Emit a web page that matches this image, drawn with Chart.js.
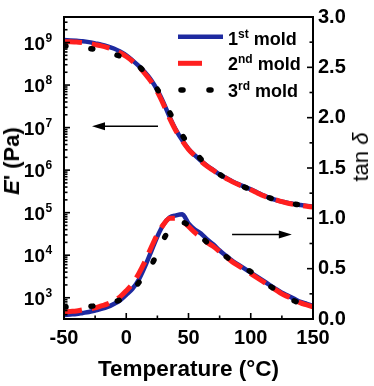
<!DOCTYPE html>
<html>
<head>
<meta charset="utf-8">
<script src="https://cdn.jsdelivr.net/npm/chart.js@4.4.1/dist/chart.umd.min.js"></script>
<style>
  body { margin: 0; background: #fff; }
  #wrap { position: relative; width: 374px; height: 386px; font-family: "Liberation Sans", Arial, sans-serif; color: #000; }
  #wrap canvas { position: absolute; left: 0; top: 0; }
  .txt { position: absolute; white-space: nowrap; line-height: 1; }
  .leg { font-weight: bold; font-size: 18px; left: 228px; }
  .leg span { font-size: 12px; position: relative; top: -7px; }
  .rot { transform: translate(-50%, -50%) rotate(-90deg); }
</style>
</head>
<body>
<div id="wrap">
  <canvas id="dma" width="374" height="386"></canvas>
  <div class="txt leg" style="top:29.8px">1<span>st</span> mold</div>
  <div class="txt leg" style="top:54.8px">2<span>nd</span> mold</div>
  <div class="txt leg" style="top:82.1px">3<span>rd</span> mold</div>
  <div class="txt" style="left:64px;width:249px;top:358px;text-align:center;font-weight:bold;font-size:22.5px;">Temperature (&deg;C)</div>
  <div class="txt rot" style="left:11.5px;top:161px;font-weight:bold;font-size:22px;"><i>E</i>'&nbsp;(Pa)</div>
  <div class="txt rot" style="left:361px;top:157px;font-size:22px;">tan <i>&delta;</i></div>
</div>
<script>
// temperature grid (°C)
const temps = [-50, -45, -40, -35, -30, -25, -20, -15, -10, -5, 0, 5, 10, 15, 20, 25, 30, 35, 40, 45, 50,
               55, 60, 65, 70, 75, 80, 85, 90, 95, 100, 105, 110, 115, 120, 125, 130, 135, 140, 145, 150];

// storage modulus, log10(E' / Pa)
const modulusLog1 = [9.06, 9.05, 9.04, 9.03, 9.01, 8.98, 8.95, 8.91, 8.86, 8.79, 8.70, 8.58, 8.45, 8.30, 8.12, 7.88, 7.58, 7.24, 6.94, 6.70, 6.50,
                     6.35, 6.22, 6.10, 6.00, 5.90, 5.82, 5.74, 5.67, 5.61, 5.55, 5.48, 5.41, 5.35, 5.30, 5.26, 5.23, 5.20, 5.18, 5.16, 5.14];
const modulusLog2 = [9.02, 9.02, 9.01, 9.00, 8.98, 8.95, 8.92, 8.88, 8.83, 8.76, 8.67, 8.56, 8.43, 8.27, 8.08, 7.84, 7.54, 7.21, 6.92, 6.69, 6.49,
                     6.34, 6.21, 6.09, 5.99, 5.89, 5.81, 5.73, 5.66, 5.60, 5.54, 5.47, 5.40, 5.35, 5.30, 5.26, 5.22, 5.19, 5.17, 5.15, 5.13];
const modulusLog3 = [8.92, 8.91, 8.89, 8.88, 8.86, 8.84, 8.81, 8.77, 8.73, 8.68, 8.62, 8.54, 8.44, 8.30, 8.12, 7.90, 7.63, 7.35, 7.07, 6.82, 6.60,
                     6.42, 6.26, 6.12, 6.00, 5.90, 5.81, 5.73, 5.66, 5.60, 5.54, 5.47, 5.41, 5.35, 5.30, 5.26, 5.23, 5.20, 5.18, 5.16, 5.14];

// loss factor tan delta
const tanDelta1 = [0.04, 0.045, 0.05, 0.06, 0.07, 0.085, 0.10, 0.12, 0.15, 0.185, 0.24, 0.30, 0.39, 0.52, 0.67, 0.82, 0.94, 1.01, 1.03, 1.04, 0.95,
                   0.89, 0.85, 0.79, 0.74, 0.68, 0.63, 0.58, 0.54, 0.50, 0.46, 0.42, 0.38, 0.34, 0.30, 0.26, 0.23, 0.20, 0.17, 0.15, 0.13];
const tanDelta2 = [0.07, 0.075, 0.08, 0.09, 0.10, 0.11, 0.13, 0.15, 0.18, 0.22, 0.28, 0.35, 0.45, 0.57, 0.71, 0.84, 0.94, 1.00, 1.00, 0.97, 0.92,
                   0.86, 0.81, 0.76, 0.72, 0.67, 0.62, 0.57, 0.53, 0.49, 0.45, 0.41, 0.37, 0.33, 0.29, 0.25, 0.22, 0.19, 0.16, 0.14, 0.12];
const tanDelta3 = [0.12, 0.12, 0.12, 0.12, 0.125, 0.13, 0.14, 0.15, 0.17, 0.19, 0.23, 0.28, 0.36, 0.45, 0.53, 0.66, 0.79, 0.90, 0.95, 0.96, 0.93,
                   0.87, 0.82, 0.76, 0.72, 0.67, 0.62, 0.58, 0.54, 0.50, 0.47, 0.42, 0.37, 0.33, 0.29, 0.25, 0.22, 0.18, 0.16, 0.14, 0.12];

// axes
const xTicks = [-50, 0, 50, 100, 150];
const xMinorTicks = [-25, 25, 75, 125];
const logTicks = [3, 4, 5, 6, 7, 8, 9];
const tanTicks = [0, 0.5, 1, 1.5, 2, 2.5, 3];
const tanMinorTicks = [0.25, 0.75, 1.25, 1.75, 2.25, 2.75];

const blue = '#1e2aa0', red = '#ff1f1f', black = '#000';
const FONT = '"Liberation Sans", Arial, sans-serif';

const pts = (ys, f) => temps.map((t, i) => ({ x: t, y: f(ys[i]) }));
const pow10 = v => Math.pow(10, v);
const same = v => v;

const solid = { borderColor: blue, borderWidth: 4.5, order: 3 };
const dashed = { borderColor: red, borderWidth: 5, borderDash: [18, 10], order: 2 };
const dotted = { borderColor: black, borderWidth: 5.5, borderDash: [2, 25], borderCapStyle: 'round', order: 1 };

// frame, inward ticks, log labels, arrows and legend samples
const decorPlugin = {
  id: 'decor',
  afterDraw(chart) {
    const ctx = chart.ctx, a = chart.chartArea;
    const xs = chart.scales.x, yl = chart.scales.y, yr = chart.scales.y2;
    ctx.save();
    ctx.strokeStyle = '#000';
    ctx.fillStyle = '#000';
    ctx.lineWidth = 2;
    ctx.strokeRect(a.left, a.top, a.right - a.left, a.bottom - a.top);

    ctx.lineWidth = 1.6;
    const tick = (x1, y1, x2, y2) => { ctx.beginPath(); ctx.moveTo(x1, y1); ctx.lineTo(x2, y2); ctx.stroke(); };
    xTicks.forEach(v => { const x = xs.getPixelForValue(v); tick(x, a.bottom, x, a.bottom - 6); });
    xMinorTicks.forEach(v => { const x = xs.getPixelForValue(v); tick(x, a.bottom, x, a.bottom - 3.5); });
    tanTicks.forEach(v => { const y = yr.getPixelForValue(v); tick(a.right, y, a.right - 6, y); });
    tanMinorTicks.forEach(v => { const y = yr.getPixelForValue(v); tick(a.right, y, a.right - 3.5, y); });
    for (let e = 2; e <= 9; e++) {
      for (let m = 1; m <= 9; m++) {
        const v = m * Math.pow(10, e);
        if (v < yl.min || v > yl.max) continue;
        const y = yl.getPixelForValue(v);
        tick(a.left, y, a.left + (m === 1 ? 6 : 3.5), y);
      }
    }

    // log tick labels 10^n
    logTicks.forEach(e => {
      const y = yl.getPixelForValue(pow10(e));
      ctx.textBaseline = 'alphabetic';
      ctx.font = 'bold 19px ' + FONT;
      ctx.textAlign = 'right';
      ctx.fillText('10', 45, y + 7);
      ctx.font = 'bold 12px ' + FONT;
      ctx.textAlign = 'left';
      ctx.fillText(String(e), 45.5, y - 1);
    });

    // arrows pointing to each axis
    const arrow = (x1, x2, y) => {
      const dir = Math.sign(x2 - x1);
      ctx.lineWidth = 1.6;
      tick(x1, y, x2 - dir * 10, y);
      ctx.beginPath();
      ctx.moveTo(x2, y);
      ctx.lineTo(x2 - dir * 13, y - 4);
      ctx.lineTo(x2 - dir * 13, y + 4);
      ctx.closePath();
      ctx.fill();
    };
    const ya = yl.getPixelForValue(pow10(7.03));
    arrow(xs.getPixelForValue(25.5), xs.getPixelForValue(-27.5), ya);
    const yb = yr.getPixelForValue(0.84);
    arrow(xs.getPixelForValue(85), xs.getPixelForValue(133), yb);

    // legend samples
    ctx.lineWidth = 4.5; ctx.strokeStyle = blue; ctx.lineCap = 'butt';
    tick(178, 36.7, 223, 36.7);
    ctx.lineWidth = 5; ctx.strokeStyle = red;
    tick(178, 63.3, 202, 63.3);
    ctx.lineWidth = 5.5; ctx.strokeStyle = black; ctx.lineCap = 'round';
    tick(181, 90, 183, 90);
    tick(209, 90, 211, 90);
    ctx.restore();
  }
};

new Chart(document.getElementById('dma').getContext('2d'), {
  type: 'line',
  data: {
    datasets: [
      { label: '1st mold', data: pts(modulusLog1, pow10), yAxisID: 'y', ...solid },
      { label: '2nd mold', data: pts(modulusLog2, pow10), yAxisID: 'y', ...dashed },
      { label: '3rd mold', data: pts(modulusLog3, pow10), yAxisID: 'y', ...dotted },
      { label: '1st mold', data: pts(tanDelta1, same), yAxisID: 'y2', ...solid },
      { label: '2nd mold', data: pts(tanDelta2, same), yAxisID: 'y2', ...dashed },
      { label: '3rd mold', data: pts(tanDelta3, same), yAxisID: 'y2', ...dotted }
    ]
  },
  options: {
    responsive: false,
    animation: false,
    layout: { padding: { top: 11, left: 0, right: 0, bottom: 0 } },
    elements: {
      point: { radius: 0 },
      line: { tension: 0.4, cubicInterpolationMode: 'monotone' }
    },
    plugins: { legend: { display: false }, tooltip: { enabled: false } },
    scales: {
      x: {
        type: 'linear', min: -50, max: 150, position: 'bottom',
        afterBuildTicks: s => { s.ticks = xTicks.map(v => ({ value: v })); },
        afterFit: s => { s.height = 67; },
        grid: { display: false, drawTicks: false },
        border: { display: false },
        ticks: { color: '#000', padding: 7, maxRotation: 0, font: { family: FONT, size: 20, weight: 'bold' } }
      },
      y: {
        type: 'logarithmic', min: pow10(2.5), max: pow10(9.6), position: 'left',
        afterFit: s => { s.width = 64; },
        grid: { display: false, drawTicks: false },
        border: { display: false },
        ticks: { display: false }
      },
      y2: {
        type: 'linear', min: 0, max: 3, position: 'right',
        afterBuildTicks: s => { s.ticks = tanTicks.map(v => ({ value: v })); },
        afterFit: s => { s.width = 61; },
        grid: { display: false, drawTicks: false },
        border: { display: false },
        ticks: { color: '#000', padding: 5, callback: v => v.toFixed(1), font: { family: FONT, size: 20, weight: 'bold' } }
      }
    }
  },
  plugins: [decorPlugin]
});
</script>
</body>
</html>
